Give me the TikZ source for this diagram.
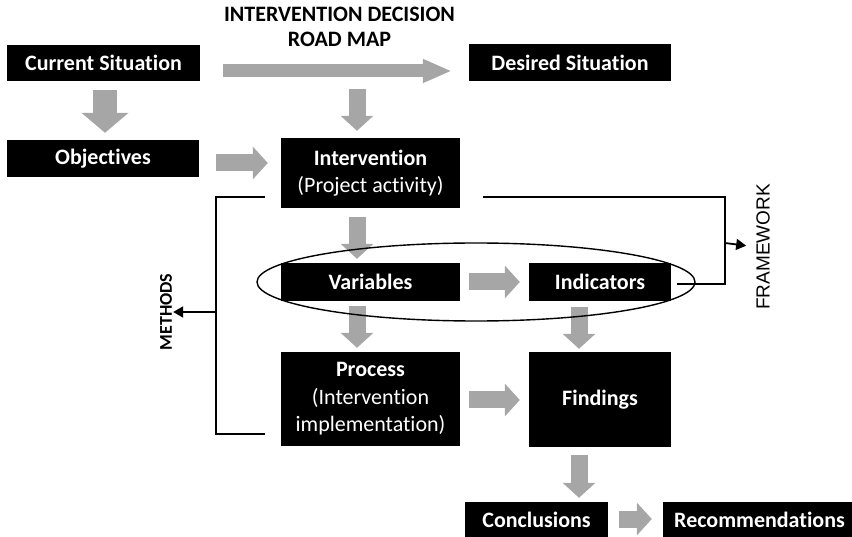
\documentclass[tikz,border=0pt]{standalone}
\usepackage{fontspec}
\setmainfont{Carlito}[Ligatures=NoCommon]
\newfontfamily\labelfont{Liberation Sans}
\usetikzlibrary{arrows.meta,shapes.geometric,calc}
\pgfdeclarelayer{back}
\pgfsetlayers{back,main}
\definecolor{arrowgray}{RGB}{166,166,166}

\begin{document}
\begin{tikzpicture}[x=1pt,y=-1pt,
  box/.style={fill=black,text=white,inner sep=0pt,align=center,
    font=\fontsize{22}{27.5}\selectfont},
  boxb/.style={box,font=\bfseries\fontsize{22}{27.5}\selectfont},
  fat/.style={draw=arrowgray,line width=17pt,
    -{Triangle[width=32pt,length=15pt]}},
  fatbig/.style={draw=arrowgray,line width=24pt,
    -{Triangle[width=46pt,length=20pt]}},
  fatthin/.style={draw=arrowgray,line width=13pt,
    -{Triangle[width=22pt,length=29pt]}},
  bline/.style={draw=black,line width=1.8pt},
  thinarrow/.style={bline,-{Triangle[width=11pt,length=10pt]}},
  sidelabel/.style={rotate=90,inner sep=0pt}
]
\useasboundingbox (0,0) rectangle (852,537);

% oval grouping variables and indicators
\node[draw,line width=1.4pt,ellipse,minimum width=438pt,minimum height=78pt,inner sep=0pt]
  (ell) at (476,282) {};

% title
\node[font=\bfseries\fontsize{22}{25}\selectfont,align=center,inner sep=0pt]
  (title) at (339.5,27) {INTERVENTION DECISION\\ROAD MAP};

% boxes
\node[boxb,minimum width=193pt,minimum height=36pt] (cur) at (103.5,63) {Current Situation};
\node[boxb,minimum width=202pt,minimum height=37pt] (des) at (570,62.5) {Desired Situation};
\node[boxb,minimum width=192pt,minimum height=37pt] (obj) at (103,158.5) {Objectives};
\node[box,minimum width=179pt,minimum height=70pt] (int) at (370.5,173)
  {\textbf{Intervention}\\(Project activity)};
\node[boxb,minimum width=179pt,minimum height=38pt] (var) at (370.5,282) {Variables};
\node[boxb,minimum width=142pt,minimum height=38pt] (ind) at (600,282) {Indicators};
\node[box,minimum width=179pt,minimum height=94pt] (proc) at (370.5,399)
  {\textbf{Process}\\(Intervention\\implementation)};
\node[boxb,minimum width=142pt,minimum height=95pt] (find) at (600,399.5) {Findings};
\node[boxb,minimum width=143pt,minimum height=36pt] (conc) at (536.5,520) {Conclusions};
\node[boxb,minimum width=193pt,minimum height=36pt] (rec) at (759.5,520) {Recommendations};

% side labels
\node[sidelabel,font=\bfseries\fontsize{18}{18}\selectfont] (meth) at (166,312) {METHODS};
\node[sidelabel,font=\labelfont\fontsize{19}{19}\selectfont] (fw) at (763,247) {FRAMEWORK};

% block arrows behind boxes and oval
\begin{pgfonlayer}{back}
  \draw[fatbig] ($(cur.south)+(1.5,9)$) -- ($(obj.north)+(2,-7)$);
  \draw[fatthin] ($(cur.east)+(23,8)$) -- ($(des.west)+(-17,8.5)$);
  \draw[fat] ($(int.north)+(-13.5,-49)$) -- ($(int.north)+(-13.5,-7)$);
  \draw[fat] ($(obj.east)+(17,4.5)$) -- ($(int.west)+(-13,-10)$);
  \draw[fat] ($(int.south)+(-13.5,9)$) -- ($(var.north)+(-13.5,-4)$);
  \draw[fat] ($(var.east)+(9,0)$) -- ($(ind.west)+(-9,0)$);
  \draw[fat] ($(var.south)+(-13.5,5)$) -- ($(proc.north)+(-13.5,-4)$);
  \draw[fat] ($(ind.south)+(-21,6)$) -- ($(find.north)+(-21,-3)$);
  \draw[fat] ($(proc.east)+(9,1)$) -- ($(find.west)+(-9,0.5)$);
  \draw[fat] ($(find.south)+(-21,8)$) -- ($(conc.north)+(42.5,-4)$);
  \draw[fat] ($(conc.east)+(11,-1)$) -- ($(rec.west)+(-11,-1)$);
\end{pgfonlayer}

% methods bracket
\coordinate (mt) at (265,197);
\coordinate (mb) at (265,434);
\coordinate (mm) at (216,312);
\draw[bline] (mt) -| (mm) |- (mb);
\draw[thinarrow,shorten >=1pt] (mm) -- (meth.south);

% framework bracket
\coordinate (fwa) at (483,197);
\coordinate (fwb) at (677,284);
\coordinate (fwm) at (725,243);
\draw[bline] (fwa) -| (fwm) |- (fwb);
\draw[thinarrow,shorten >=10pt] (fwm) -- (fw.north);
\end{tikzpicture}
\end{document}
